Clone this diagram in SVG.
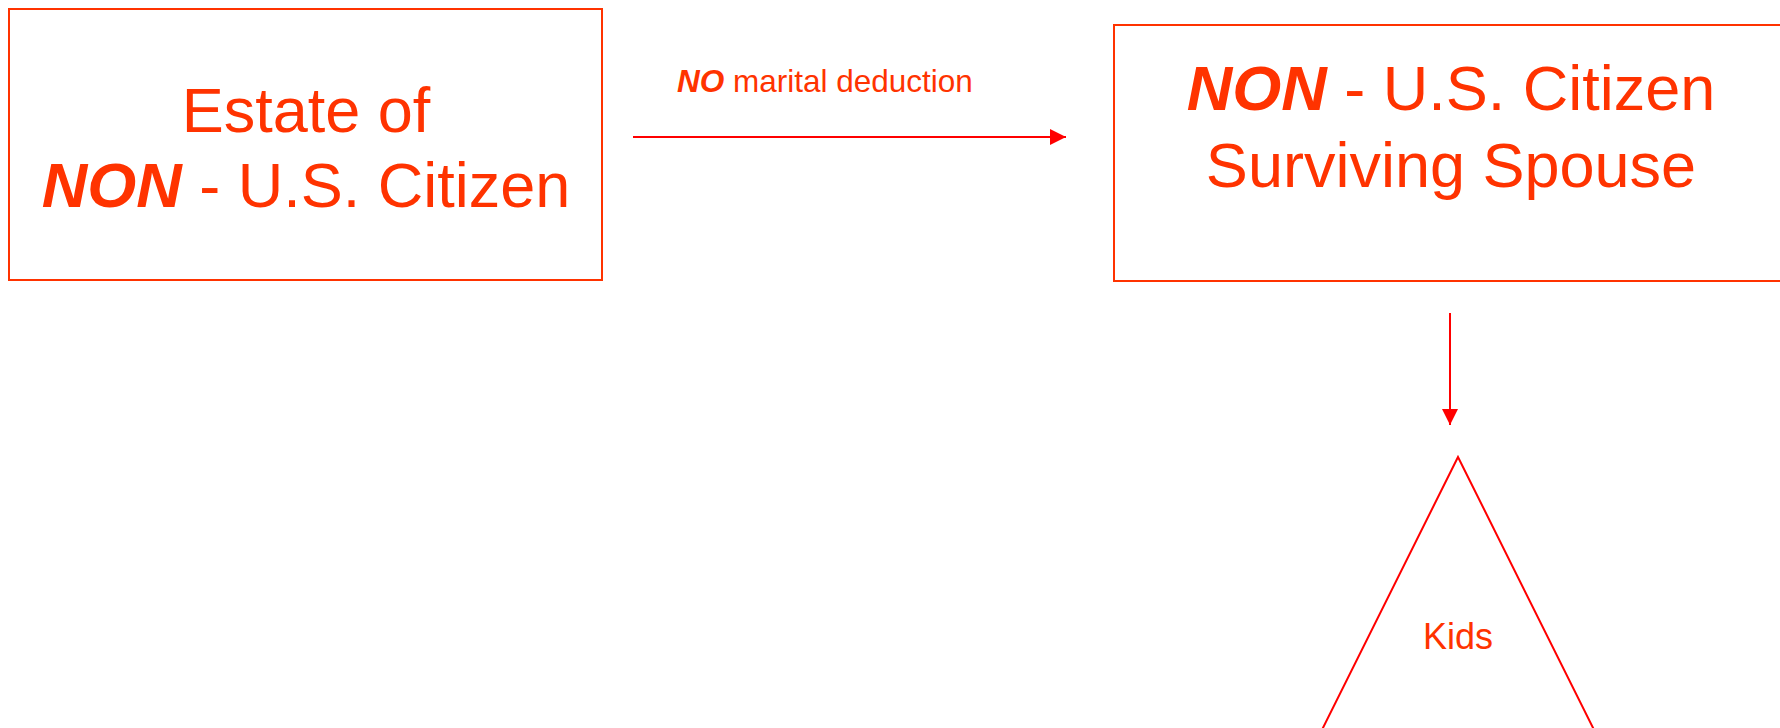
<svg xmlns="http://www.w3.org/2000/svg" width="1780" height="728" viewBox="0 0 1780 728">
<style>
  .box { fill: #ffffff; stroke: #ff3300; stroke-width: 2; }
  .big { font-family: "Liberation Sans", Arial, sans-serif; font-size: 63px; fill: #ff3300; text-anchor: middle; }
  .lbl { font-family: "Liberation Sans", Arial, sans-serif; font-size: 31.5px; fill: #ff3300; }
  .kids { font-family: "Liberation Sans", Arial, sans-serif; font-size: 36px; fill: #ff3300; text-anchor: middle; }
  .bi { font-weight: bold; font-style: italic; }
  .conn { stroke: #ff0000; stroke-width: 2; fill: none; }
</style>
<defs>
  <marker id="ah" markerUnits="userSpaceOnUse" markerWidth="16" markerHeight="16" refX="16" refY="8" orient="auto">
    <path d="M0,0 L16,8 L0,16 Z" fill="#ff0000"/>
  </marker>
</defs>
<rect width="1780" height="728" fill="#ffffff"/>
<g id="estate">
  <rect class="box" x="9" y="9" width="593" height="271"/>
  <text class="big" x="306" y="132">Estate of</text>
  <text class="big" x="306" y="207"><tspan class="bi">NON</tspan> - U.S. Citizen</text>
</g>
<g id="spouse">
  <rect class="box" x="1114" y="25" width="700" height="256"/>
  <text class="big" x="1451" y="110"><tspan class="bi">NON</tspan> - U.S. Citizen</text>
  <text class="big" x="1451" y="187">Surviving Spouse</text>
</g>
<g id="kids">
  <polygon class="conn" points="1458,457 1287,800 1629,800"/>
  <text class="kids" x="1458" y="649">Kids</text>
</g>
<g id="connectors">
  <line class="conn" x1="633" y1="137" x2="1066" y2="137" marker-end="url(#ah)"/>
  <text class="lbl" x="677" y="92"><tspan class="bi">NO</tspan> marital deduction</text>
  <line class="conn" x1="1450" y1="313" x2="1450" y2="425" marker-end="url(#ah)"/>
</g>
</svg>
